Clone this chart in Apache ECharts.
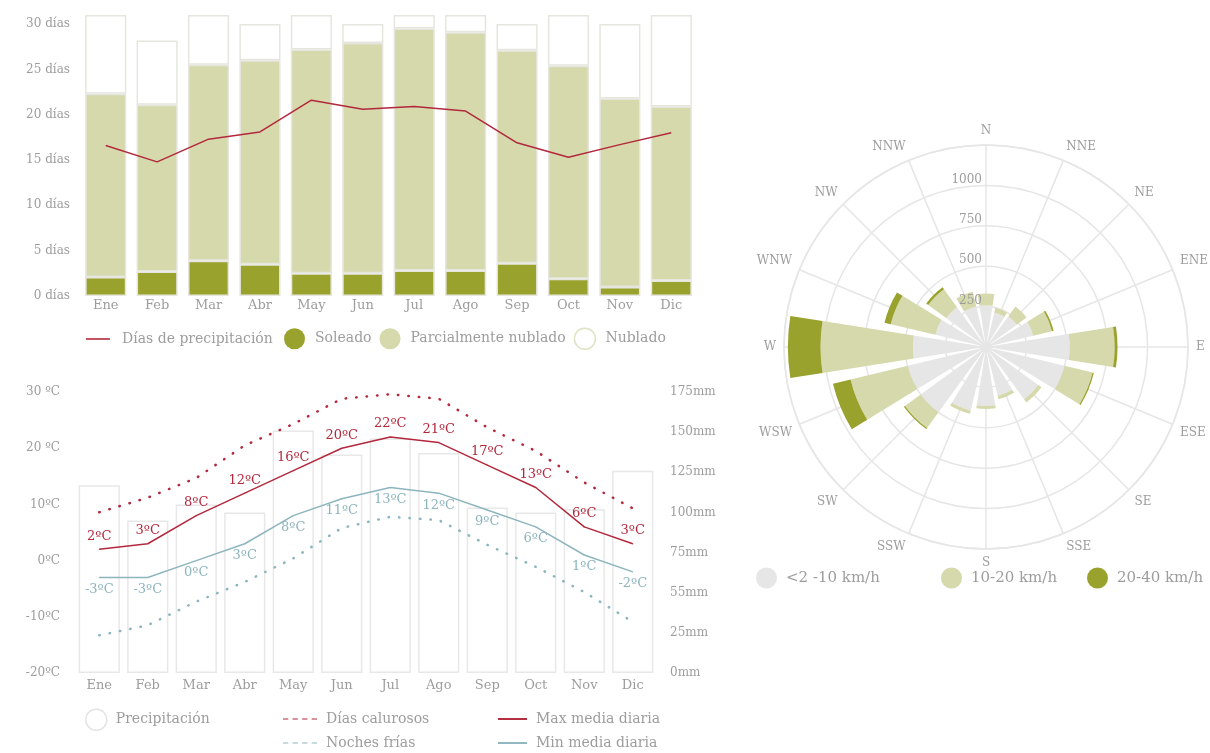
<!DOCTYPE html>
<html><head><meta charset="utf-8">
<script src="https://cdn.jsdelivr.net/npm/echarts@6/dist/echarts.min.js"></script>
<style>html,body{margin:0;padding:0;background:#fff}#c{width:1210px;height:753px}</style>
</head><body><div id="c"></div>
<script>
// ---------- data ----------
const months = ['Ene','Feb','Mar','Abr','May','Jun','Jul','Ago','Sep','Oct','Nov','Dic'];
const sunnyDays = [2.1,2.7,3.9,3.5,2.5,2.5,2.8,2.8,3.6,1.9,1.0,1.7];
const partlyCloudyDays = [20.2,18.4,21.6,22.5,24.7,25.4,26.7,26.3,23.5,23.5,20.8,19.2];
const overcastDays = [8.7,7.1,5.5,4.0,3.8,2.1,1.5,1.9,2.9,5.6,8.2,10.1];
const precipDays = [16.6,14.8,17.3,18.1,21.6,20.6,20.9,20.4,16.9,15.3,16.7,18.0];

const maxTemp = [2,3,8,12,16,20,22,21,17,13,6,3];
const minTemp = [-3,-3,0,3,8,11,13,12,9,6,1,-2];
const hotDays = [8.6,11.2,14.7,20.5,24.3,28.8,29.6,28.8,23.7,19.5,13.9,9.3];
const coldNights = [-13.3,-11.5,-7.3,-3.8,0.4,5.8,7.8,7.2,2.8,-1.1,-5.6,-10.9];
const precipMm = [117,95,105,100,151,136,146,137,103,100,102,126];

const tempTickLabels = ['-20ºC','-10ºC','0ºC','10ºC','20 ºC','30 ºC'];
const precipTickLabels = ['0mm','25mm','55mm','75mm','100mm','125mm','150mm','175mm'];

const directions = ['N','NNE','NE','ENE','E','ESE','SE','SSE','S','SSW','SW','WSW','W','WNW','NW','NNW'];
const windLow  = [259,220,235,300,518,500,400,310,365,405,500,498,452,322,305,258];
const windMid  = [72,30,75,120,278,178,25,22,18,20,120,364,572,284,137,94];
const windHigh = [0,0,0,10,18,8,0,0,0,0,8,112,202,40,15,0];

// ---------- style ----------
const FONT = "'DejaVu Serif', Georgia, serif";
const GREY = '#9d9d9d';
const RED = '#b3283c';
const BLUE = '#8db5be';
const OLIVE = '#9aa22e';
const LIGHT = '#d5d9ab';
const WIND_GREY = '#e6e6e6';
const BORDER = '#e6e6df';
const txt = (s) => ({color: GREY, fontFamily: FONT, fontSize: s});

const chart = echarts.init(document.getElementById('c'));

const lineIcon = 'path://M0,0h30v2h-30z';
const dashIcon = 'path://M0,0h5v1h-5zM9,0h5v1h-5zM18,0h5v1h-5zM27,0h5v1h-5z';

function legend(name, left, top, icon, w, h, size, extra) {
  return Object.assign({
    data: [name], left: left, top: top, icon: icon, padding: 0,
    itemWidth: w, itemHeight: h, selectedMode: false,
    textStyle: Object.assign(txt(size), {padding: [0,0,0,4]})
  }, extra || {});
}

const option = {
  animation: false,
  backgroundColor: '#fff',
  grid: [
    {left: 80, top: 15, width: 617, height: 281},
    {left: 75, top: 392, width: 582, height: 281}
  ],
  xAxis: [
    {type: 'category', gridIndex: 0, data: months,
     axisLine: {show: false}, axisTick: {show: false},
     axisLabel: Object.assign(txt(13), {margin: 3})},
    {type: 'category', gridIndex: 1, data: months,
     axisLine: {show: false}, axisTick: {show: false},
     axisLabel: Object.assign(txt(13), {margin: 6})}
  ],
  yAxis: [
    {type: 'value', gridIndex: 0, min: 0, max: 31, interval: 5,
     splitLine: {show: false}, axisLine: {show: false}, axisTick: {show: false},
     axisLabel: Object.assign(txt(12), {margin: 10, showMaxLabel: false,
       formatter: v => (v % 5 === 0 ? v + ' días' : '')})},
    {type: 'value', gridIndex: 1, min: -20, max: 30, interval: 10,
     splitLine: {show: false}, axisLine: {show: false}, axisTick: {show: false},
     axisLabel: Object.assign(txt(12), {margin: 15,
       formatter: v => tempTickLabels[Math.round((v + 20) / 10)]})},
    {type: 'value', gridIndex: 1, position: 'right', min: 0, max: 175, interval: 25,
     splitLine: {show: false}, axisLine: {show: false}, axisTick: {show: false},
     axisLabel: Object.assign(txt(12), {margin: 13,
       formatter: v => precipTickLabels[Math.round(v / 25)]})}
  ],
  polar: [
    {center: [986, 347], radius: 202},
    {center: [986, 347], radius: 202},
    {center: [986, 347], radius: 202}
  ],
  angleAxis: [
    {polarIndex: 0, type: 'category', data: directions, startAngle: 101.25, clockwise: true,
     axisLine: {show: false}, axisTick: {show: false}, splitLine: {show: false},
     axisLabel: Object.assign(txt(12), {margin: 8})},
    {polarIndex: 1, type: 'category', data: directions, startAngle: 90, clockwise: true,
     axisLine: {show: true, lineStyle: {color: WIND_GREY, width: 1.5}},
     axisTick: {show: false}, axisLabel: {show: false},
     splitLine: {show: true, lineStyle: {color: WIND_GREY, width: 1.5}}},
    {polarIndex: 2, type: 'category', data: directions, startAngle: 90, show: false}
  ],
  radiusAxis: [
    {polarIndex: 0, min: 0, max: 1250, interval: 250, axisLine: {show: false},
     axisTick: {show: false}, axisLabel: {show: false}, splitLine: {show: false}},
    {polarIndex: 1, min: 0, max: 1250, interval: 250, axisLine: {show: false},
     axisTick: {show: false}, axisLabel: {show: false},
     splitLine: {show: true, lineStyle: {color: WIND_GREY, width: 1.5}}},
    {polarIndex: 2, min: 0, max: 1250, interval: 250, z: 10, axisLine: {show: false},
     axisTick: {show: false}, splitLine: {show: false},
     axisLabel: Object.assign(txt(12), {margin: 4, verticalAlign: 'bottom',
       formatter: v => (v === 0 || v === 1250 ? '' : String(v))})}
  ],
  legend: [
    legend('Días de precipitación', 86, 332, lineIcon, 24, 2, 14,
      {textStyle: Object.assign(txt(14), {padding: [0,0,0,7]})}),
    {data: [
       {name: 'Soleado', itemStyle: {color: OLIVE, borderWidth: 0}},
       {name: 'Parcialmente nublado', itemStyle: {color: LIGHT, borderWidth: 0}},
       {name: 'Nublado', itemStyle: {color: '#fff', borderColor: '#dfe3c4', borderWidth: 1.5}}],
     left: 284, top: 327.5, padding: 0, icon: 'circle', itemWidth: 21, itemHeight: 21, itemGap: 8,
     selectedMode: false, textStyle: Object.assign(txt(14), {padding: [0,0,0,5]})},
    {data: [{name: 'Precipitación', itemStyle: {color: '#fff', borderColor: '#e4e4e4', borderWidth: 1.5}}],
     left: 85, top: 708.5, padding: 0, icon: 'circle', itemWidth: 21, itemHeight: 21, selectedMode: false,
     textStyle: Object.assign(txt(14), {padding: [0,0,0,4]})},
    legend('Días calurosos', 283, 712, dashIcon, 34, 2, 14, {itemStyle: {color: RED}}),
    legend('Noches frías', 283, 736, dashIcon, 34, 2, 14, {itemStyle: {color: BLUE}}),
    legend('Max media diaria', 498, 712, lineIcon, 29, 2, 14, {itemStyle: {color: RED}}),
    legend('Min media diaria', 498, 736, lineIcon, 29, 2, 14, {itemStyle: {color: BLUE}}),
    legend('<2 -10 km/h', 756, 567.5, 'circle', 21, 21, 15),
    legend('10-20 km/h', 941, 567.5, 'circle', 21, 21, 15),
    legend('20-40 km/h', 1087, 567.5, 'circle', 21, 21, 15)
  ],
  series: [
    // top chart
    {name: 'Soleado', type: 'bar', stack: 'days', xAxisIndex: 0, yAxisIndex: 0,
     barCategoryGap: '20%', data: sunnyDays,
     itemStyle: {color: OLIVE, borderColor: BORDER, borderWidth: 1.5}},
    {name: 'Parcialmente nublado', type: 'bar', stack: 'days', xAxisIndex: 0, yAxisIndex: 0,
     barCategoryGap: '20%', data: partlyCloudyDays,
     itemStyle: {color: LIGHT, borderColor: BORDER, borderWidth: 1.5}},
    {name: 'Nublado', type: 'bar', stack: 'days', xAxisIndex: 0, yAxisIndex: 0,
     barCategoryGap: '20%', data: overcastDays,
     itemStyle: {color: '#fff', borderColor: BORDER, borderWidth: 1.5}},
    {name: 'Días de precipitación', type: 'line', xAxisIndex: 0, yAxisIndex: 0,
     data: precipDays, symbol: 'none', z: 5,
     lineStyle: {color: RED, width: 1.5}, itemStyle: {color: RED}},
    // bottom chart
    {name: 'Precipitación', type: 'bar', xAxisIndex: 1, yAxisIndex: 2,
     barCategoryGap: '15%', data: precipMm,
     itemStyle: {color: '#fff', borderColor: '#e8e8e8', borderWidth: 1.5}},
    {name: 'Días calurosos', type: 'line', xAxisIndex: 1, yAxisIndex: 1,
     data: hotDays, symbol: 'none', z: 4,
     lineStyle: {color: RED, width: 2.5, type: [0.5, 10], cap: 'round'}, itemStyle: {color: RED}},
    {name: 'Noches frías', type: 'line', xAxisIndex: 1, yAxisIndex: 1,
     data: coldNights, symbol: 'none', z: 4,
     lineStyle: {color: BLUE, width: 2.5, type: [0.5, 10], cap: 'round'}, itemStyle: {color: BLUE}},
    {name: 'Max media diaria', type: 'line', xAxisIndex: 1, yAxisIndex: 1,
     data: maxTemp, symbol: 'circle', symbolSize: 1, z: 5,
     lineStyle: {color: RED, width: 1.5}, itemStyle: {color: RED},
     label: {show: true, position: 'top', distance: 6, color: RED, fontFamily: FONT, fontSize: 13,
       formatter: p => p.value + 'ºC'}},
    {name: 'Min media diaria', type: 'line', xAxisIndex: 1, yAxisIndex: 1,
     data: minTemp, symbol: 'circle', symbolSize: 1, z: 5,
     lineStyle: {color: BLUE, width: 1.5}, itemStyle: {color: BLUE},
     label: {show: true, position: 'bottom', distance: 5, color: BLUE, fontFamily: FONT, fontSize: 13,
       formatter: p => p.value + 'ºC'}},
    // wind rose
    {name: '<2 -10 km/h', type: 'bar', coordinateSystem: 'polar', polarIndex: 0, stack: 'wind',
     barCategoryGap: '20%', data: windLow, itemStyle: {color: WIND_GREY}},
    {name: '10-20 km/h', type: 'bar', coordinateSystem: 'polar', polarIndex: 0, stack: 'wind',
     barCategoryGap: '20%', data: windMid, itemStyle: {color: LIGHT}},
    {name: '20-40 km/h', type: 'bar', coordinateSystem: 'polar', polarIndex: 0, stack: 'wind',
     barCategoryGap: '20%', data: windHigh, itemStyle: {color: OLIVE}}
  ]
};
chart.setOption(option);
</script>
</body></html>
